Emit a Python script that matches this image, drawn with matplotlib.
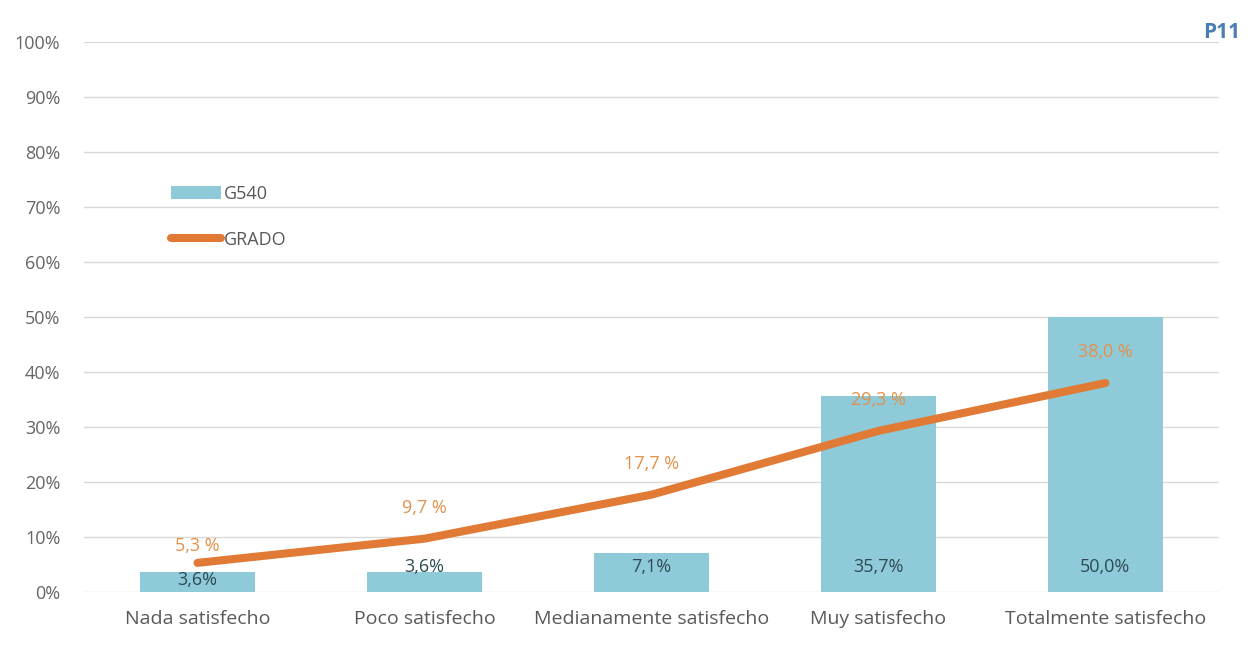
import matplotlib
matplotlib.use("Agg")
import matplotlib.pyplot as plt
from matplotlib.lines import Line2D
from matplotlib.patches import Patch

categories = ["Nada satisfecho", "Poco satisfecho", "Medianamente satisfecho",
              "Muy satisfecho", "Totalmente satisfecho"]
g540 = [3.6, 3.6, 7.1, 35.7, 50.0]
grado = [5.3, 9.7, 17.7, 29.3, 38.0]
yticks = [0, 10, 20, 30, 40, 50, 60, 70, 80, 90, 100]

plt.rcParams['font.family'] = ['Open Sans', 'DejaVu Sans']

fig = plt.figure(figsize=(12.54, 6.67), dpi=100)
ax = fig.add_axes([0.067, 0.1124, 0.905, 0.8246])

x = list(range(len(categories)))
bar_color = "#8FCAD9"
line_color = "#E07A35"

ax.bar(x, g540, width=0.51, color=bar_color, zorder=2)
ax.plot(x, grado, color=line_color, linewidth=5.8, solid_capstyle='round',
        solid_joinstyle='round', zorder=3)

ax.set_xlim(-0.5, len(categories) - 0.5)
ax.set_ylim(0, 100)
ax.set_yticks(yticks)
ax.set_yticklabels([f"{v}%" for v in yticks])
ax.set_xticks(x)
ax.set_xticklabels(categories)
ax.tick_params(axis='y', length=0, labelsize=13, colors="#666666", pad=17)
ax.tick_params(axis='x', length=0, labelsize=14, colors="#595959", pad=13)
ax.grid(axis='y', color="#D9D9D9", linewidth=1, zorder=0)
ax.set_axisbelow(True)
for s in ax.spines.values():
    s.set_visible(False)

# bar labels
for i, v in enumerate(g540):
    ypos = 2.2 if i == 0 else 4.5
    ax.text(i, ypos, f"{v:.1f}%".replace(".", ","), ha='center', va='center',
            fontsize=13, color="#2E4B55", zorder=4)

# line labels
for i, v in enumerate(grado):
    off = 17 if i == 0 else 31
    ax.annotate(f"{v:.1f} %".replace(".", ","), (i, v), xytext=(0, off),
                textcoords='offset pixels', ha='center', va='center',
                fontsize=13, color="#E3914A", zorder=4)

handles = [Patch(facecolor=bar_color, edgecolor='none'),
           Line2D([0], [0], color=line_color, linewidth=5.8, solid_capstyle='round')]
leg = ax.legend(handles, ["G540", "GRADO"], loc='upper left',
                bbox_to_anchor=(0.062, 0.77), frameon=False, fontsize=13,
                handlelength=2.8, handleheight=0.8, handletextpad=0.15,
                labelspacing=1.55, labelcolor="#595959")

fig.text(0.989, 0.952, "P11", ha='right', va='center', fontsize=15,
         fontweight='bold', color="#4A7EB3")

fig.savefig("out.png", dpi=100)
